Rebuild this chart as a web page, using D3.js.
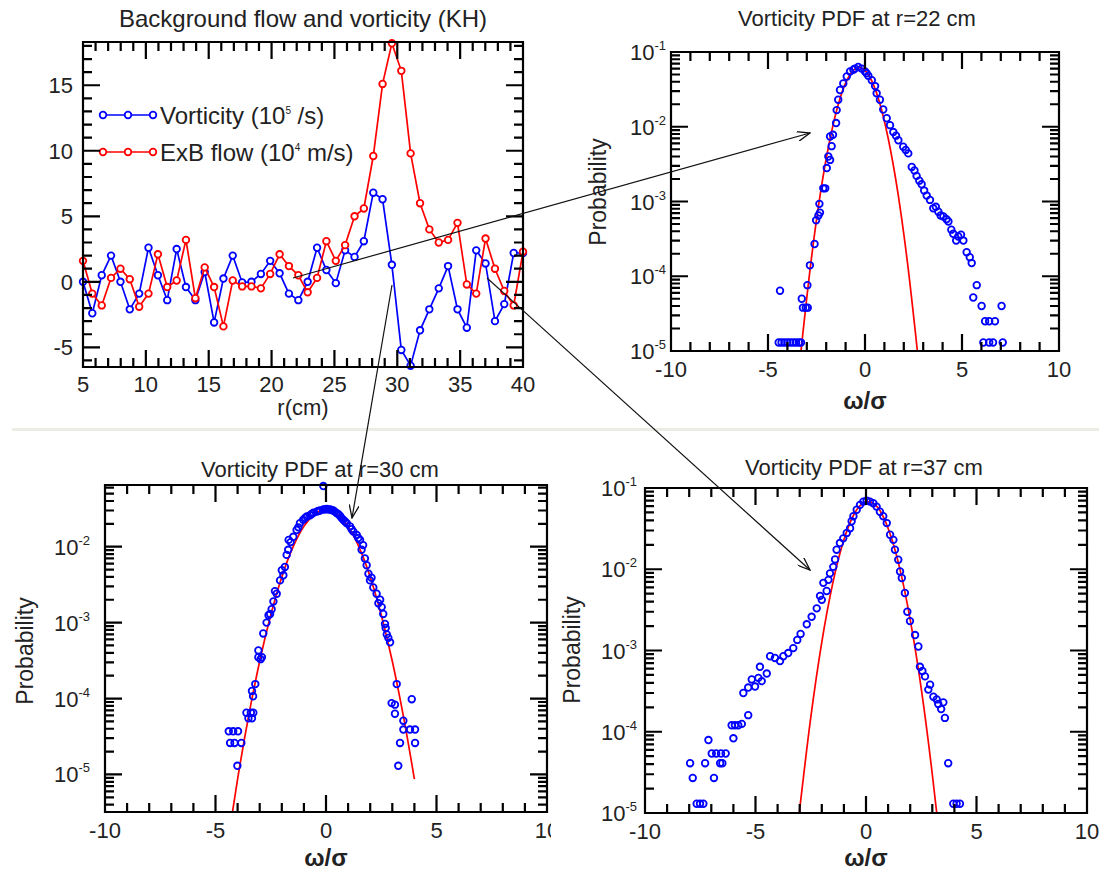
<!DOCTYPE html>
<html>
<head>
<meta charset="utf-8">
<script src="https://cdn.jsdelivr.net/npm/d3@7/dist/d3.min.js"></script>
<style>
  body { margin: 0; background: #fff; }
  svg text { font-family: "Liberation Sans", Arial, sans-serif; fill: #222; }
</style>
</head>
<body>
<script>
// ---- top-left: background flow and vorticity ----
var flowR = [5.00, 5.74, 6.49, 7.23, 7.98, 8.72, 9.47, 10.21, 10.96, 11.70, 12.45, 13.19,
  13.94, 14.68, 15.43, 16.17, 16.91, 17.66, 18.40, 19.15, 19.89, 20.64, 21.38, 22.13,
  22.87, 23.62, 24.36, 25.11, 25.85, 26.60, 27.34, 28.09, 28.83, 29.57, 30.32, 31.06,
  31.81, 32.55, 33.30, 34.04, 34.79, 35.53, 36.28, 37.02, 37.77, 38.51, 39.26, 40.00];
var vorticity = [0, -2.4, 0.5, 2.0, 0, -2.1, -0.9, 2.6, 0.5, -1.4, 2.5, -0.4,
  -1.4, 0.75, -3.1, 0.25, 2.0, -0.05, 0, 0.6, 1.6, 0.65, -0.9, -1.4,
  0, 2.6, 0.9, -0.1, 2.4, 1.9, 3.1, 6.8, 6.3, 1.3, -5.2, -6.4,
  -3.7, -2.1, -0.5, 1.2, -2.1, -3.5, 2.4, 1.4, -3.0, -1.7, 2.2, 2.2];
var exbFlow = [1.6, -0.9, -1.8, 0.3, 1.0, 0.2, -1.9, -0.9, 2.1, -0.4, 0.1, 3.2,
  -1.25, 1.1, -0.4, -3.4, 0.1, -0.35, -0.35, -0.5, 0.6, 2.1, 1.2, 0.5,
  -0.8, 0.3, 3.1, 1.6, 2.8, 5.0, 5.6, 9.6, 15.1, 18.2, 16.1, 9.8,
  6.0, 4.0, 3.0, 3.2, 4.5, -0.2, -0.9, 3.3, 1.0, -0.7, -1.8, 2.3];
var flowXTicks = [5, 10, 15, 20, 25, 30, 35, 40];
var flowYTicks = [-5, 0, 5, 10, 15];

// ---- PDF panels: [omega/sigma, probability] ----
var pdf22 = [[-4.45,1.3e-5],[-4.3,1.3e-5],[-4.15,1.3e-5],[-4.0,1.3e-5],[-3.85,1.3e-5],[-3.7,1.3e-5],
  [-3.55,1.3e-5],[-3.4,1.3e-5],[-3.3,1.3e-5],[-4.38,6.4e-5],[-3.26,5.0e-5],[-3.2,3.8e-5],[-3.05,3.8e-5],
  [-2.95,3.8e-5],[-2.97,7.6e-5],[-2.84,1.4e-4],[-2.6,2.7e-4],[-2.52,5.6e-4],[-2.4,6.5e-4],[-2.32,7.1e-4],
  [-2.35,9.3e-4],[-2.15,1.5e-3],[-2.05,1.5e-3],[-1.97,2.8e-3],[-1.89,4.0e-3],[-1.8,3.6e-3],[-1.72,5.5e-3],
  [-1.8,7.4e-3],[-1.65,7.8e-3],[-1.49,0.0112],[-1.46,0.0167],[-1.38,0.023],[-1.29,0.031],[-1.12,0.038],
  [-0.94,0.047],[-0.77,0.055],[-0.6,0.058],[-0.52,0.060],[-0.35,0.063],[-0.17,0.060],[0,0.055],
  [0.08,0.052],[0.17,0.048],[0.35,0.042],[0.52,0.035],[0.6,0.028],[0.77,0.023],[0.94,0.017],
  [1.12,0.013],[1.29,0.0105],[1.46,8.5e-3],[1.6,7.6e-3],[1.72,6.6e-3],[1.97,5.4e-3],[2.1,4.9e-3],
  [2.23,4.4e-3],[2.41,2.9e-3],[2.55,2.6e-3],[2.66,2.2e-3],[2.8,1.9e-3],[2.92,1.7e-3],[3.05,1.4e-3],
  [3.18,1.2e-3],[3.35,1.05e-3],[3.52,8.1e-4],[3.65,8.5e-4],[3.78,7.3e-4],[3.9,6.5e-4],[4.04,6.3e-4],
  [4.2,5.8e-4],[4.3,5.4e-4],[4.45,4.2e-4],[4.55,3.7e-4],[4.7,3.0e-4],[4.81,3.4e-4],[4.95,3.6e-4],
  [5.07,3.0e-4],[5.24,2.1e-4],[5.4,1.8e-4],[5.5,1.5e-4],[5.76,7.6e-5],[5.58,5.2e-5],[6.01,4.0e-5],
  [6.19,2.5e-5],[6.4,2.5e-5],[6.7,2.5e-5],[7.04,4.0e-5],[6.1,1.3e-5],[6.4,1.3e-5],[6.6,1.3e-5],[7.1,1.3e-5]];
var fit22 = [[-3.3,1.0e-5],[-2.8,1.44e-4],[-2.3,1.28e-3],[-1.8,6.9e-3],[-1.3,0.0234],[-0.8,0.0484],
  [-0.3,0.0617],[0.2,0.0484],[0.7,0.0234],[1.2,6.9e-3],[1.7,1.28e-3],[2.2,1.44e-4],[2.7,1.0e-5]];

var pdf30 = [[-0.12,0.063],[-4.01,1.3e-5],[-4.34,2.6e-5],[-4.14,2.6e-5],[-3.83,2.6e-5],[-4.4,3.7e-5],
  [-4.2,3.7e-5],[-3.98,3.7e-5],[-3.51,5.5e-5],[-3.6,6.5e-5],[-3.4,6.5e-5],[-3.29,6.5e-5],[-3.35,5.5e-5],
  [-3.3,1.07e-4],[-3.35,1.26e-4],[-3.2,1.55e-4],[-2.96,3.3e-4],[-3.06,3.5e-4],[-2.9,3.5e-4],[-3.06,4.3e-4],
  [-2.84,7.2e-4],[-2.69,1.0e-3],[-2.53,1.3e-3],[-2.6,1.25e-3],[-2.46,1.5e-3],[-2.38,1.9e-3],[-2.23,2.4e-3],
  [-2.31,2.6e-3],[-2.08,3.6e-3],[-1.93,4.2e-3],[-2.0,4.9e-3],[-1.86,5.4e-3],[-1.78,7.8e-3],[-1.71,9.1e-3],
  [-1.69,0.0123],[-1.6,0.0115],[-1.48,0.0135],[-1.33,0.0166],[-1.25,0.018],[-1.18,0.0204],[-1.03,0.0226],
  [-0.95,0.024],[-0.87,0.025],[-0.72,0.026],[-0.65,0.027],[-0.57,0.028],[-0.42,0.029],[-0.35,0.0295],
  [-0.27,0.030],[-0.12,0.031],[-0.05,0.031],[0.03,0.0315],[0.1,0.031],[0.18,0.031],[0.25,0.0305],
  [0.33,0.030],[0.4,0.029],[0.48,0.0277],[0.55,0.027],[0.63,0.0256],[0.7,0.024],[0.78,0.0226],
  [0.86,0.0215],[0.94,0.0204],[1.09,0.0185],[1.16,0.017],[1.24,0.0158],[1.39,0.0143],[1.46,0.013],
  [1.54,0.0123],[1.61,9.1e-3],[1.68,0.0105],[1.76,7.0e-3],[1.84,5.7e-3],[1.92,4.4e-3],[1.99,3.6e-3],
  [2.06,3.9e-3],[2.14,2.9e-3],[2.29,2.4e-3],[2.37,1.8e-3],[2.45,2.0e-3],[2.52,1.6e-3],[2.59,1.3e-3],
  [2.67,9.6e-4],[2.75,7.0e-4],[2.82,6.3e-4],[2.9,5.5e-4],[2.7,8.5e-4],[3.2,1.55e-4],[2.97,8.7e-5],
  [3.12,8.3e-5],[3.12,6.3e-5],[3.5,5.1e-5],[3.88,9.8e-5],[3.5,3.9e-5],[3.8,3.9e-5],[4.03,3.9e-5],
  [3.35,2.6e-5],[4.03,2.6e-5],[3.27,1.3e-5]];
var fit30 = [[-4.4,1.55e-6],[-4.0,8.7e-6],[-3.5,5.9e-5],[-3.0,3.1e-4],[-2.5,1.26e-3],[-2.0,4.0e-3],
  [-1.5,9.8e-3],[-1.0,0.0186],[-0.5,0.027],[0,0.031],[0.5,0.027],[1.0,0.0186],[1.5,9.8e-3],
  [2.0,4.0e-3],[2.5,1.26e-3],[3.0,3.1e-4],[3.5,5.9e-5],[4.0,8.7e-6]];

var pdf37 = [[-7.66,1.3e-5],[-7.51,1.3e-5],[-7.36,1.3e-5],[-7.96,4.1e-5],[-7.84,2.7e-5],[-7.13,7.9e-5],
  [-7.28,4.1e-5],[-6.88,2.7e-5],[-6.98,5.4e-5],[-6.78,5.4e-5],[-6.56,5.4e-5],[-6.35,5.4e-5],[-6.6,4.1e-5],
  [-6.5,4.1e-5],[-6.08,1.2e-4],[-5.93,1.2e-4],[-5.78,1.2e-4],[-5.62,1.25e-4],[-6.0,8.3e-5],[-5.33,1.6e-4],
  [-5.55,3.0e-4],[-5.33,3.5e-4],[-5.17,4.4e-4],[-5.02,3.6e-4],[-4.87,4.6e-4],[-4.72,4.2e-4],[-4.8,6.3e-4],
  [-4.49,5.2e-4],[-4.34,8.5e-4],[-4.12,8.1e-4],[-3.89,7.4e-4],[-3.74,8.5e-4],[-3.52,9.3e-4],[-3.29,1.07e-3],
  [-3.11,1.35e-3],[-2.96,1.6e-3],[-2.68,2.1e-3],[-2.46,2.6e-3],[-2.23,3.3e-3],[-2.0,4.2e-3],[-2.08,4.7e-3],
  [-1.78,5.4e-3],[-1.7,7.4e-3],[-1.93,6.8e-3],[-1.63,8.9e-3],[-1.48,0.0107],[-1.40,0.0132],[-1.33,0.0174],
  [-1.18,0.021],[-1.03,0.024],[-0.87,0.028],[-0.72,0.032],[-0.65,0.039],[-0.57,0.045],[-0.42,0.054],
  [-0.27,0.062],[-0.12,0.068],[0.03,0.070],[0.18,0.068],[0.33,0.065],[0.48,0.059],[0.63,0.051],
  [0.78,0.045],[0.94,0.037],[1.09,0.0266],[1.24,0.023],[1.31,0.0174],[1.46,0.0131],[1.54,9.4e-3],
  [1.62,7.8e-3],[1.76,5.1e-3],[1.87,3.0e-3],[1.99,2.3e-3],[2.22,1.55e-3],[2.37,1.12e-3],[2.44,6.3e-4],
  [2.55,5.6e-4],[2.67,4.8e-4],[2.82,3.3e-4],[2.9,3.8e-4],[3.05,2.7e-4],[3.2,2.5e-4],[3.27,2.2e-4],
  [3.4,1.9e-4],[3.5,2.3e-4],[3.57,1.48e-4],[3.72,4.1e-5],[3.95,1.3e-5],[4.1,1.3e-5],[4.25,1.3e-5]];
var fit37 = [[-3.02,1.0e-5],[-2.5,1.49e-4],[-2.0,1.27e-3],[-1.5,6.8e-3],[-1.0,0.023],[-0.5,0.050],
  [0.09,0.068],[0.5,0.059],[1.0,0.032],[1.5,0.011],[2.0,2.4e-3],[2.5,3.4e-4],[3.0,3.0e-5],[3.2,1.0e-5]];

var pdfXTicks = [-10, -5, 0, 5, 10];
var pdfDecades = [-6, -5, -4, -3, -2, -1];

var width = 1099, height = 872;
var majorLen = 17, minorLen = 9;
var blue = "#0000ff", red = "#ff0000";

var svg = d3.select("body").append("svg")
    .attr("width", width)
    .attr("height", height);

var defs = svg.append("defs");

// faint separator between the two rows
svg.append("rect")
    .attr("x", 12).attr("y", 428)
    .attr("width", width - 12).attr("height", 3)
    .attr("fill", "#ecece4");

var frames = [];

// inward ticks on all four sides, one path per panel, placed with the panel scales
function allTicks(g, x, y, w, h, xMajor, xMinor, yMajor, yMinor) {
    var p = d3.path();
    function tx(v, len) {
        p.moveTo(x(v), h); p.lineTo(x(v), h - len);
        p.moveTo(x(v), 0); p.lineTo(x(v), len);
    }
    function ty(v, len) {
        p.moveTo(0, y(v)); p.lineTo(len, y(v));
        p.moveTo(w, y(v)); p.lineTo(w - len, y(v));
    }
    xMajor.forEach(v => tx(v, majorLen));
    xMinor.forEach(v => tx(v, minorLen));
    yMajor.forEach(v => ty(v, majorLen));
    yMinor.forEach(v => ty(v, minorLen));
    p.rect(0, 0, w, h);
    g.append("path")
        .attr("d", p.toString())
        .attr("fill", "none")
        .attr("stroke", "#000")
        .attr("stroke-width", 2.2);
}

// ================= top-left panel =================
(function() {
    var box = {left: 83, top: 42, w: 440, h: 325};
    var g = svg.append("g").attr("transform", `translate(${box.left},${box.top})`);
    var x = d3.scaleLinear().domain([5, 40]).range([0, box.w]);
    var y = d3.scaleLinear().domain([-6.5, 18.3]).range([box.h, 0]);

    var xMinor = d3.range(5, 41, 1).filter(v => v % 5 !== 0);
    var yMinor = d3.range(-6, 19, 1).filter(v => v % 5 !== 0);
    frames.push({left: box.left, top: box.top, x: x, y: y, w: box.w, h: box.h,
        xMajor: flowXTicks, xMinor: xMinor, yMajor: flowYTicks, yMinor: yMinor});

    var series = [
        {name: "Vorticity", values: vorticity, color: blue},
        {name: "ExB flow", values: exbFlow, color: red}
    ];
    var line = d3.line()
        .x((d, i) => x(flowR[i]))
        .y(d => y(d));

    series.forEach(function(s) {
        g.append("path")
            .attr("d", line(s.values))
            .attr("fill", "none")
            .attr("stroke", s.color)
            .attr("stroke-width", 1.7);
        g.selectAll(null)
            .data(s.values)
            .enter()
            .append("circle")
            .attr("cx", (d, i) => x(flowR[i]))
            .attr("cy", d => y(d))
            .attr("r", 3.3)
            .attr("fill", "#fff")
            .attr("stroke", s.color)
            .attr("stroke-width", 1.8);
    });

    g.selectAll(".xl")
        .data(flowXTicks)
        .enter().append("text")
        .attr("x", d => x(d))
        .attr("y", box.h + 25)
        .attr("text-anchor", "middle")
        .style("font-size", "22px")
        .text(d => d);

    g.selectAll(".yl")
        .data(flowYTicks)
        .enter().append("text")
        .attr("x", -10)
        .attr("y", d => y(d) + 8)
        .attr("text-anchor", "end")
        .style("font-size", "22px")
        .text(d => d);

    svg.append("text")
        .attr("x", 303).attr("y", 27)
        .attr("text-anchor", "middle")
        .style("font-size", "24px")
        .text("Background flow and vorticity (KH)");

    svg.append("text")
        .attr("x", 303).attr("y", 415)
        .attr("text-anchor", "middle")
        .style("font-size", "22px")
        .text("r(cm)");

    // legend
    var legend = svg.append("g").attr("transform", "translate(103,0)");
    var legendItems = [
        {color: blue, y: 115, base: "Vorticity (10", sup: "5", rest: " /s)"},
        {color: red, y: 152, base: "ExB flow (10", sup: "4", rest: " m/s)"}
    ];
    legendItems.forEach(function(it) {
        legend.append("line")
            .attr("x1", 0).attr("x2", 50)
            .attr("y1", it.y).attr("y2", it.y)
            .attr("stroke", it.color).attr("stroke-width", 1.7);
        legend.selectAll(null)
            .data([0, 25, 50])
            .enter().append("circle")
            .attr("cx", d => d).attr("cy", it.y).attr("r", 3.3)
            .attr("fill", "#fff").attr("stroke", it.color).attr("stroke-width", 1.8);
        var t = legend.append("text")
            .attr("x", 57).attr("y", it.y + 9)
            .style("font-size", "24px");
        t.append("tspan").text(it.base);
        t.append("tspan").attr("dy", -10).style("font-size", "10px").text(it.sup);
        t.append("tspan").attr("dy", 10).text(it.rest);
    });
})();

// ================= PDF panels =================
function pdfPanel(cfg) {
    var outer = svg.append("g");
    if (cfg.clipRight) {
        var cid = "clipall" + cfg.id;
        defs.append("clipPath").attr("id", cid)
            .append("rect").attr("x", 0).attr("y", 0)
            .attr("width", cfg.clipRight).attr("height", height);
        outer.attr("clip-path", `url(#${cid})`);
    }
    var g = outer.append("g").attr("transform", `translate(${cfg.left},${cfg.top})`);
    var x = d3.scaleLinear().domain([-10, 10]).range([0, cfg.w]);
    var y = d3.scaleLog().domain(cfg.yDomain).range([cfg.h, 0]);
    var lo = cfg.yDomain[0] * 0.999, hi = cfg.yDomain[1] * 1.001;

    var yMajor = pdfDecades.map(e => Math.pow(10, e)).filter(v => v >= lo && v <= hi);
    var yMinor = [];
    pdfDecades.forEach(function(e) {
        for (var k = 2; k <= 9; k++) {
            var v = k * Math.pow(10, e);
            if (v >= lo && v <= hi) yMinor.push(v);
        }
    });
    var xMinor = d3.range(-10, 11, 1).filter(v => v % 5 !== 0);
    frames.push({left: cfg.left, top: cfg.top, x: x, y: y, w: cfg.w, h: cfg.h,
        xMajor: pdfXTicks, xMinor: xMinor, yMajor: yMajor, yMinor: yMinor});

    var clipId = "clip" + cfg.id;
    defs.append("clipPath").attr("id", clipId)
        .append("rect").attr("width", cfg.w).attr("height", cfg.h);

    g.append("path")
        .attr("d", d3.line().x(d => x(d[0])).y(d => y(d[1])).curve(d3.curveMonotoneX)(cfg.fit))
        .attr("fill", "none")
        .attr("stroke", red)
        .attr("stroke-width", 1.7)
        .attr("clip-path", `url(#${clipId})`);

    g.selectAll(".pt")
        .data(cfg.points)
        .enter().append("circle")
        .attr("cx", d => x(d[0]))
        .attr("cy", d => y(d[1]))
        .attr("r", 3.3)
        .attr("fill", "none")
        .attr("stroke", blue)
        .attr("stroke-width", 1.8);

    g.selectAll(".xl")
        .data(pdfXTicks)
        .enter().append("text")
        .attr("x", d => x(d))
        .attr("y", cfg.h + 26)
        .attr("text-anchor", "middle")
        .style("font-size", "22px")
        .text(d => d);

    yMajor.forEach(function(v) {
        var t = g.append("text")
            .attr("x", -cfg.labelGap)
            .attr("y", y(v) + 8)
            .attr("text-anchor", "end")
            .style("font-size", "22px");
        t.append("tspan").text("10");
        t.append("tspan").attr("dy", -10).style("font-size", "13px").text(Math.round(Math.log10(v)));
    });

    svg.append("text")
        .attr("x", cfg.titleX).attr("y", cfg.titleY)
        .attr("text-anchor", "middle")
        .style("font-size", "22px")
        .text(cfg.title);

    svg.append("text")
        .attr("transform", `translate(${cfg.probX},${cfg.probY}) rotate(-90)`)
        .attr("text-anchor", "middle")
        .style("font-size", "23px")
        .text("Probability");

    svg.append("text")
        .attr("x", cfg.left + x(0)).attr("y", cfg.omegaY)
        .attr("text-anchor", "middle")
        .style("font-size", "24px")
        .style("font-weight", "bold")
        .text("ω/σ");
}

pdfPanel({id: "22", left: 671, top: 52, w: 388, h: 299, yDomain: [1e-5, 1e-1],
    points: pdf22, fit: fit22, labelGap: 5, title: "Vorticity PDF at r=22 cm",
    titleX: 857, titleY: 26, probX: 606, probY: 192, omegaY: 409});
pdfPanel({id: "30", left: 105, top: 485, w: 442, h: 327, yDomain: [3.2e-6, 0.065],
    points: pdf30, fit: fit30, labelGap: 15, title: "Vorticity PDF at r=30 cm",
    titleX: 320, titleY: 477, probX: 33, probY: 651, omegaY: 866, clipRight: 551});
pdfPanel({id: "37", left: 645, top: 488, w: 442, h: 325, yDomain: [1e-5, 1e-1],
    points: pdf37, fit: fit37, labelGap: 8, title: "Vorticity PDF at r=37 cm",
    titleX: 864, titleY: 475, probX: 580, probY: 650, omegaY: 866});

// ================= frames and ticks, drawn on top =================
frames.forEach(function(f) {
    var fg = svg.append("g").attr("transform", `translate(${f.left},${f.top})`);
    allTicks(fg, f.x, f.y, f.w, f.h, f.xMajor, f.xMinor, f.yMajor, f.yMinor);
});

// ================= arrows linking radius to PDFs =================
defs.append("marker")
    .attr("id", "head")
    .attr("viewBox", "0 0 14 10")
    .attr("refX", 13).attr("refY", 5)
    .attr("markerWidth", 14).attr("markerHeight", 10)
    .attr("markerUnits", "userSpaceOnUse")
    .attr("orient", "auto")
    .append("path")
    .attr("d", "M0,0 L13,5 L0,10")
    .attr("fill", "none")
    .attr("stroke", "#111")
    .attr("stroke-width", 1.3);

var arrows = [
    {x1: 293, y1: 278, x2: 810, y2: 133},
    {x1: 392, y1: 285, x2: 352, y2: 518},
    {x1: 487, y1: 278, x2: 810, y2: 570}
];
svg.selectAll(".arrow")
    .data(arrows)
    .enter().append("line")
    .attr("class", "arrow")
    .attr("x1", d => d.x1).attr("y1", d => d.y1)
    .attr("x2", d => d.x2).attr("y2", d => d.y2)
    .attr("stroke", "#111")
    .attr("stroke-width", 1.2)
    .attr("marker-end", "url(#head)");
</script>
</body>
</html>
